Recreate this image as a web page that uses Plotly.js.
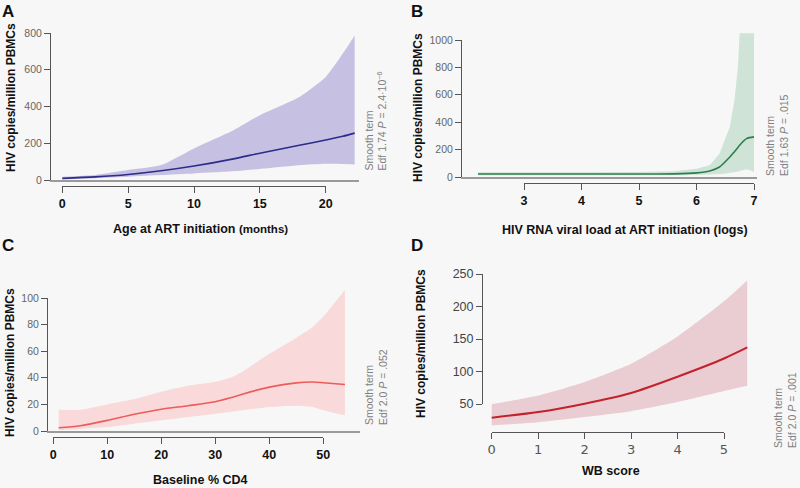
<!DOCTYPE html>
<html>
<head>
<meta charset="utf-8">
<script src="https://cdn.plot.ly/plotly-3.0.1.min.js"></script>
<style>html,body{margin:0;padding:0;background:#f7f7f7;}#chart{width:800px;height:488px;}</style>
</head>
<body>
<div id="chart"></div>
<script>
// ---------- Data ----------
// Panel A: Age at ART initiation (months)
const A_x     = [0, 2.5, 5, 7.5, 10, 13, 15, 18, 20, 21.3, 22.2];
const A_fit   = [9, 17, 30, 50, 76, 115, 146, 189, 218, 238, 255];
const A_upper = [18, 27, 54, 81, 172, 271, 353, 452, 561, 688, 787];
const A_lower = [4, 10, 18, 27, 36, 47, 60, 80, 88, 87, 85];

// Panel B: HIV RNA viral load at ART initiation (logs)
const B_x     = [2.2, 3, 4, 5, 5.6, 6.0, 6.23, 6.4, 6.58, 6.66, 6.72, 6.75, 6.87, 7.0];
const B_fit   = [22, 22, 22, 22, 23, 30, 44, 73, 146, 185, 215, 232, 280, 293];
const B_upper = [34, 34, 34, 36, 42, 60, 85, 170, 366, 560, 805, 1050, 1050, 1050];
const B_lower = [12, 12, 12, 12, 13, 15, 18, 22, 30, 35, 40, 42, 54, 37];

// Panel C: Baseline % CD4
const C_x     = [1, 5, 10, 15, 20, 25, 30, 33, 35, 40, 45, 48, 50, 54];
const C_fit   = [2.5, 4, 8, 12.6, 16.4, 19, 22, 25.2, 27.7, 33, 36.2, 36.8, 36.3, 35];
const C_upper = [16, 16, 20, 24, 29.5, 34, 37, 40.5, 44.6, 58, 70, 78, 86, 106];
const C_lower = [0.5, 1.5, 3, 5.5, 8, 10.5, 13, 14.5, 15.6, 18, 19, 18, 15.6, 11.8];

// Panel D: WB score
const D_x     = [0, 1, 2, 3, 4, 5, 5.5];
const D_fit   = [29, 37.6, 50.5, 67, 92, 120, 137];
const D_upper = [49.5, 63, 84, 112, 154, 208, 240];
const D_lower = [17, 22, 30, 39, 53, 70, 78];

// Texts
const panelLetters = ["A", "B", "C", "D"];
const xTitles = [
  "<b>Age at ART initiation <span style='font-size:11.5px'>(months)</span></b>",
  "<b>HIV RNA viral load at ART initiation (logs)</b>",
  "<b>Baseline % CD4</b>",
  "<b>WB score</b>"
];
const yTitle = "<b>HIV copies/million PBMCs</b>";
const sideTexts = [
  "Smooth term<br>Edf 1.74 <i>P</i> = 2.4·10<sup>−6</sup>",
  "Smooth term<br>Edf 1.63 <i>P</i> = .015",
  "Smooth term<br>Edf 2.0 <i>P</i> = .052",
  "Smooth term<br>Edf 2.0 <i>P</i> = .001"
];
const xTickRanges = [[0, 20], [3, 7], [0, 50], [0, 5]];
const xTickSteps  = [5, 1, 10, 1];
const yTickRanges = [[0, 800], [0, 1000], [0, 100], [50, 250]];
const yTickSteps  = [200, 200, 20, 50];

// ---------- Styling / geometry ----------
const SANS = "Liberation Sans, Arial, sans-serif";
const W = 800, H = 488;
const xp = p => p / W;
const yp = p => 1 - p / H;

const colors = [
  {band: "#c6c1e2", line: "#2c2c8a"},
  {band: "#cfe4d6", line: "#2e7d4e"},
  {band: "#f9d9d9", line: "#ee5b5b"},
  {band: "#e9cdd3", line: "#c3222b"}
];

const boldTick = {family:SANS, size:12.5, color:"#111", weight:"bold"};
const grayTick = {family:SANS, size:10.5, color:"#666"};

// pixel geometry per panel
const geo = [
  {mx:[50,359],  xmap:[62.3,325.7], my:[28,180],  ymap:[180,33],  txpx:[62.3,325.7], txpos:185.5, typx:[33,180],  typos:50,  base:true,
   tick:{xfont:boldTick, yfont:grayTick},
   ytitle:[11,98], xtitle:[200,229], side:[375,173], letter:[8,11]},
  {mx:[461,757], xmap:[524,754],   my:[28,177],  ymap:[177,40],  txpx:[524,754],   txpos:183.3, typx:[40,177],  typos:461, base:true,
   tick:{xfont:boldTick, yfont:grayTick},
   ytitle:[418,108], xtitle:[625,230], side:[777,178], letter:[417,11]},
  {mx:[47,360],  xmap:[53.3,323.3], my:[285,431], ymap:[431,298], txpx:[53.3,323.3], txpos:437.3, typx:[298,431], typos:47,  base:true,
   tick:{xfont:boldTick, yfont:grayTick},
   ytitle:[10,363], xtitle:[200,480], side:[376,427], letter:[8,246]},
  {mx:[482,760], xmap:[491.7,724], my:[268,430], ymap:[404,274], txpx:[491.7,724], txpos:431.7, typx:[274,404], typos:482, base:false,
   tick:{xfont:{family:"DejaVu Sans, sans-serif",size:13,color:"#555"}, yfont:{family:SANS,size:12.5,color:"#444"}},
   ytitle:[421,344], xtitle:[611,471], side:[785,450], letter:[417,246]}
];

const series = [
  {x:A_x, fit:A_fit, up:A_upper, lo:A_lower},
  {x:B_x, fit:B_fit, up:B_upper, lo:B_lower},
  {x:C_x, fit:C_fit, up:C_upper, lo:C_lower},
  {x:D_x, fit:D_fit, up:D_upper, lo:D_lower}
];

// linear pixel->value mapping helper
function valAt(px, p0, v0, p1, v1) { return v0 + (px - p0) * (v1 - v0) / (p1 - p0); }

const data = [];
const layout = {
  width: W, height: H, autosize: false,
  margin: {l:0, r:0, t:0, b:0},
  paper_bgcolor: "#f7f7f7",
  plot_bgcolor: "rgba(0,0,0,0)",
  showlegend: false,
  annotations: [],
  font: {family: SANS}
};

for (let i = 0; i < 4; i++) {
  const g = geo[i], s = series[i], c = colors[i];
  const n = i + 1, t = i + 5;
  const xid = n === 1 ? "x" : "x" + n, yid = n === 1 ? "y" : "y" + n;
  const txid = "x" + t, tyid = "y" + t;
  const xr = xTickRanges[i], yr = yTickRanges[i];

  const xRange = [valAt(g.mx[0], g.xmap[0], xr[0], g.xmap[1], xr[1]), valAt(g.mx[1], g.xmap[0], xr[0], g.xmap[1], xr[1])];
  const yRange = [valAt(g.my[1], g.ymap[0], yr[0], g.ymap[1], yr[1]), valAt(g.my[0], g.ymap[0], yr[0], g.ymap[1], yr[1])];
  layout[n === 1 ? "xaxis" : "xaxis" + n] = {
    domain: [xp(g.mx[0]), xp(g.mx[1])], range: xRange, anchor: yid,
    showline: g.base, linecolor: "#9a9a9a", linewidth: 2,
    showticklabels: false, ticks: "", showgrid: false, zeroline: false, fixedrange: true
  };
  layout[n === 1 ? "yaxis" : "yaxis" + n] = {
    domain: [yp(g.my[1]), yp(g.my[0])], range: yRange, anchor: xid,
    visible: false, showgrid: false, zeroline: false, fixedrange: true
  };
  layout["xaxis" + t] = {
    domain: [xp(g.txpx[0]), xp(g.txpx[1])], range: xr, anchor: "free", position: yp(g.txpos),
    showline: true, linecolor: "#555", linewidth: 1,
    ticks: "outside", ticklen: 6, tickwidth: 1, tickcolor: "#555",
    tickmode: "linear", tick0: xr[0], dtick: xTickSteps[i],
    tickfont: g.tick.xfont, showgrid: false, zeroline: false, fixedrange: true
  };
  layout["yaxis" + t] = {
    domain: [yp(g.typx[1]), yp(g.typx[0])], range: yr, anchor: "free", position: xp(g.typos), side: "left",
    showline: true, linecolor: "#555", linewidth: 1,
    ticks: "outside", ticklen: 6, tickwidth: 1, tickcolor: "#555",
    tickmode: "linear", tick0: yr[0], dtick: yTickSteps[i],
    tickfont: g.tick.yfont, showgrid: false, zeroline: false, fixedrange: true
  };

  data.push({type:"scatter", mode:"lines", x:s.x, y:s.lo, xaxis:xid, yaxis:yid,
    line:{width:0, shape:"spline", smoothing:0.6, color:c.band}, hoverinfo:"skip"});
  data.push({type:"scatter", mode:"lines", x:s.x, y:s.up, xaxis:xid, yaxis:yid,
    fill:"tonexty", fillcolor:c.band, line:{width:0, shape: i === 1 ? "linear" : "spline", smoothing:0.6, color:c.band}, hoverinfo:"skip"});
  data.push({type:"scatter", mode:"lines", x:s.x, y:s.fit, xaxis:xid, yaxis:yid,
    line:{width: i === 3 ? 2 : 1.6, shape:"spline", smoothing:0.8, color:c.line}});
  data.push({type:"scatter", x:[], y:[], xaxis:txid, yaxis:yid, hoverinfo:"skip"});
  data.push({type:"scatter", x:[], y:[], xaxis:xid, yaxis:tyid, hoverinfo:"skip"});

  layout.annotations.push({xref:"paper", yref:"paper", x:xp(g.letter[0]), y:yp(g.letter[1]),
    xanchor:"center", yanchor:"middle", showarrow:false, text:"<b>"+panelLetters[i]+"</b>",
    font:{family:SANS, size:17, color:"#111"}});
  layout.annotations.push({xref:"paper", yref:"paper", x:xp(g.ytitle[0]), y:yp(g.ytitle[1]),
    xanchor:"center", yanchor:"middle", showarrow:false, textangle:-90, text:yTitle,
    font:{family:SANS, size:12, color:"#111"}});
  layout.annotations.push({xref:"paper", yref:"paper", x:xp(g.xtitle[0]), y:yp(g.xtitle[1]),
    xanchor:"center", yanchor:"middle", showarrow:false, text:xTitles[i],
    font:{family:SANS, size:12.5, color:"#111"}});
  layout.annotations.push({xref:"paper", yref:"paper", x:xp(g.side[0]), y:yp(g.side[1]),
    xanchor:"center", yanchor:"bottom", showarrow:false, textangle:-90, align:"left", text:sideTexts[i],
    font:{family:SANS, size:10.5, color:"#808080"}});
}

Plotly.newPlot("chart", data, layout, {displayModeBar:false, staticPlot:true});
</script>
</body>
</html>
